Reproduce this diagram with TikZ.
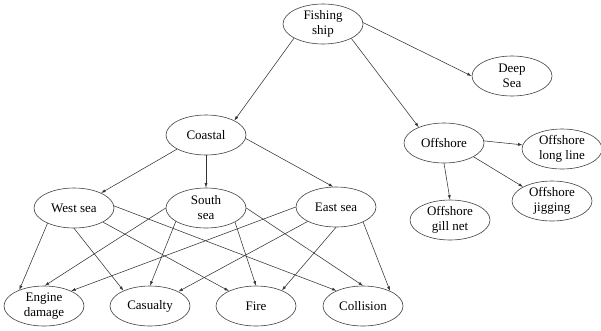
\documentclass[tikz,border=0pt]{standalone}
\usepackage{fontspec}
\setmainfont{Liberation Serif}
\usetikzlibrary{shapes.geometric,arrows.meta}
\begin{document}
\begin{tikzpicture}[x=1pt,y=-1pt,
  box/.style={ellipse,draw=black!75,line width=0.6pt,minimum width=80pt,minimum height=40pt,inner sep=0pt,align=center,font=\fontsize{13}{15}\selectfont},
  arr/.style={draw=black!80,line width=0.55pt,-{Latex[length=4.5pt,width=3pt]}}]
\useasboundingbox (0,0) rectangle (601,330);
\node[box] (fs) at (323,24) {Fishing\\ship};
\node[box] (ds) at (512,76) {Deep\\Sea};
\node[box] (co) at (206,135) {Coastal};
\node[box] (of) at (444,143) {Offshore};
\node[box] (ll) at (562,149) {Offshore\\long line};
\node[box] (jg) at (552,201) {Offshore\\jigging};
\node[box] (gn) at (450,220) {Offshore\\gill net};
\node[box] (ws) at (74,208) {West sea};
\node[box] (ss) at (206,208) {South\\sea};
\node[box] (es) at (336,207) {East sea};
\node[box] (ed) at (44,306) {Engine\\damage};
\node[box] (ca) at (150,306) {Casualty};
\node[box] (fi) at (256,306) {Fire};
\node[box] (cl) at (363,306) {Collision};
% top level
\draw[arr] (fs.206) -- (co.27);
\draw[arr] (fs.333) -- (of.148);
\draw[arr] (fs.2) -- (ds.180);
% coastal
\draw[arr] (co.206) -- (ws.29);
\draw[arr] (co.270) -- (ss.90);
\draw[arr] (co.355) -- (es.98);
% offshore
\draw[arr] (of.3) -- (ll.174);
\draw[arr] (of.335) -- (jg.154);
\draw[arr] (of.270) -- (gn.90);
% west sea
\draw[arr] (ws.210) -- (ed.147);
\draw[arr] (ws.270) -- (ca.150);
\draw[arr] (ws.334) -- (fi.151);
\draw[arr] (ws.3) -- (cl.150);
% south sea
\draw[arr] (ss.180) -- (ed.88);
\draw[arr] (ss.204) -- (ca.90);
\draw[arr] (ss.334) -- (fi.90);
\draw[arr] (ss.0) -- (cl.90);
% east sea
\draw[arr] (es.180) -- (ed.29);
\draw[arr] (es.207) -- (ca.27);
\draw[arr] (es.270) -- (fi.31);
\draw[arr] (es.331) -- (cl.29);
\end{tikzpicture}
\end{document}
